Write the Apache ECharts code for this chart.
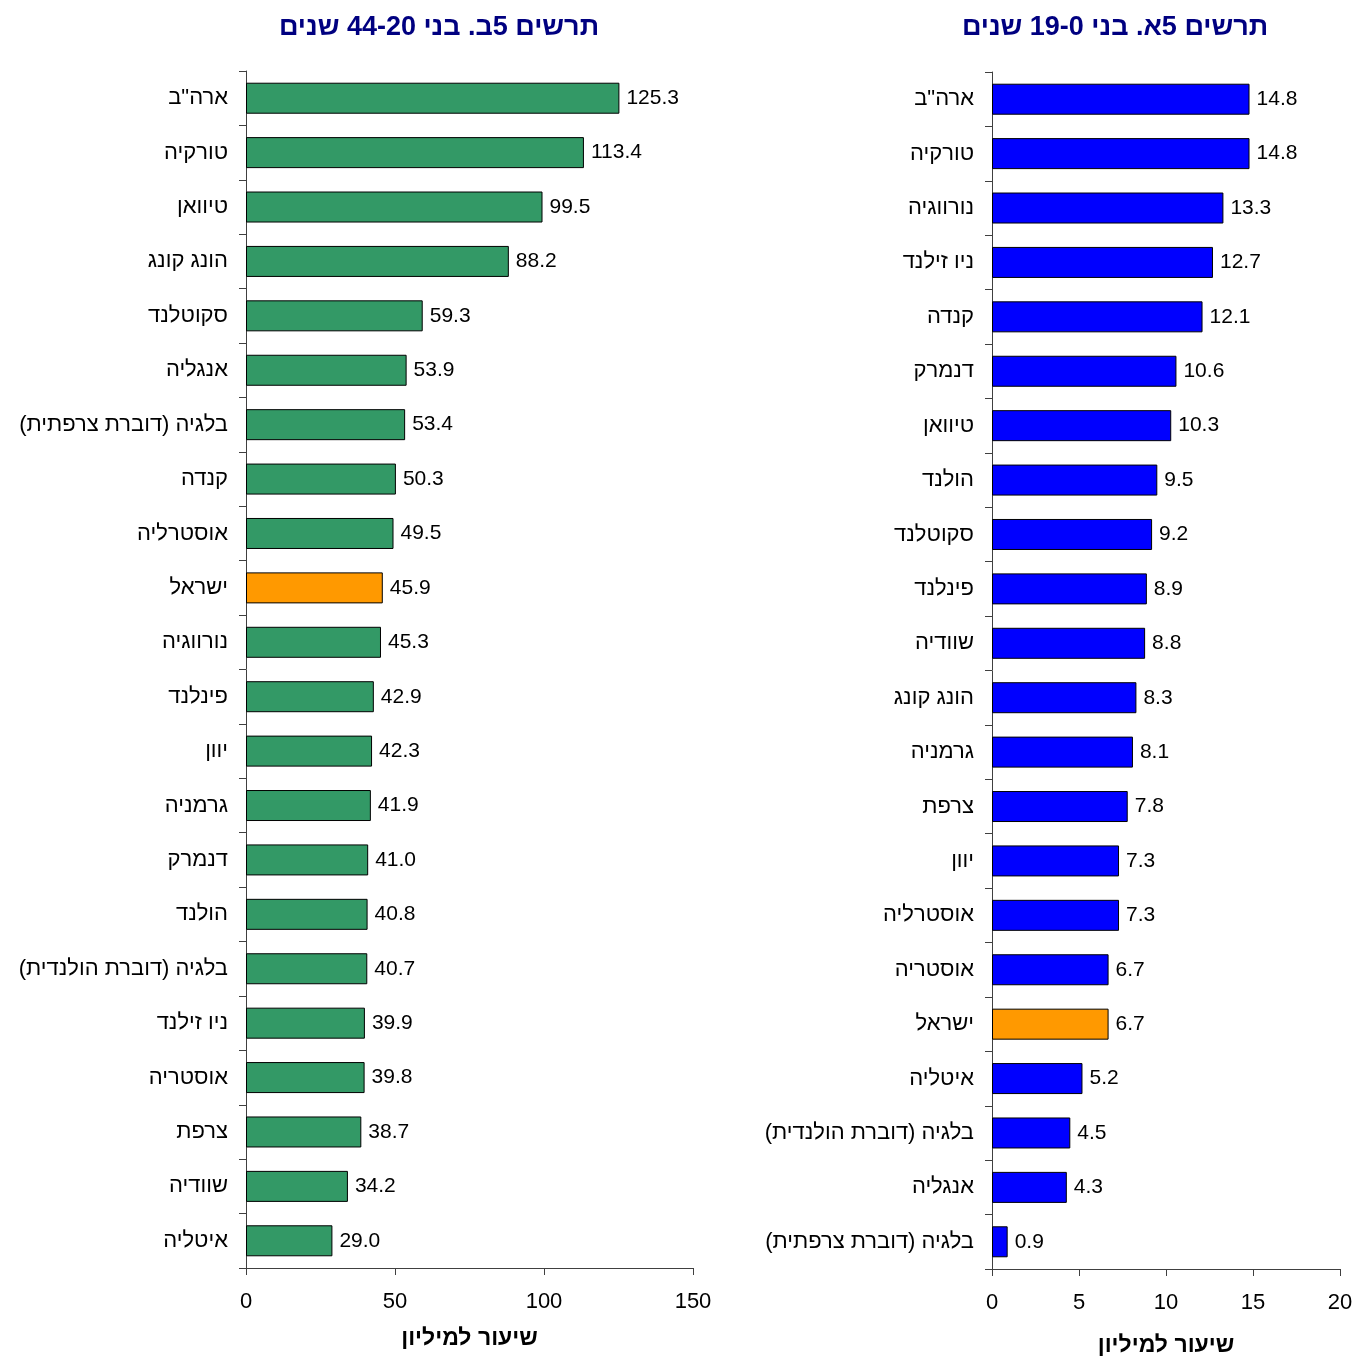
<!DOCTYPE html>
<html>
<head>
<meta charset="utf-8">
<script src="https://cdn.jsdelivr.net/npm/echarts@6/dist/echarts.min.js"></script>
<style>
  html, body { margin: 0; padding: 0; background: #fff; }
  #chart { width: 1361px; height: 1356px; }
</style>
</head>
<body>
<div id="chart" dir="rtl"></div>
<script>
// 5b: ages 20-44
const adultCountries = ['ארה"ב', 'טורקיה', 'טיוואן', 'הונג קונג', 'סקוטלנד', 'אנגליה', 'בלגיה (דוברת צרפתית)', 'קנדה', 'אוסטרליה', 'ישראל', 'נורווגיה', 'פינלנד', 'יוון', 'גרמניה', 'דנמרק', 'הולנד', 'בלגיה (דוברת הולנדית)', 'ניו זילנד', 'אוסטריה', 'צרפת', 'שוודיה', 'איטליה'];
const adultRates = [125.3, 113.4, 99.5, 88.2, 59.3, 53.9, 53.4, 50.3, 49.5, 45.9, 45.3, 42.9, 42.3, 41.9, 41.0, 40.8, 40.7, 39.9, 39.8, 38.7, 34.2, 29.0];

// 5a: ages 0-19
const childCountries = ['ארה"ב', 'טורקיה', 'נורווגיה', 'ניו זילנד', 'קנדה', 'דנמרק', 'טיוואן', 'הולנד', 'סקוטלנד', 'פינלנד', 'שוודיה', 'הונג קונג', 'גרמניה', 'צרפת', 'יוון', 'אוסטרליה', 'אוסטריה', 'ישראל', 'איטליה', 'בלגיה (דוברת הולנדית)', 'אנגליה', 'בלגיה (דוברת צרפתית)'];
const childRates = [14.8, 14.8, 13.3, 12.7, 12.1, 10.6, 10.3, 9.5, 9.2, 8.9, 8.8, 8.3, 8.1, 7.8, 7.3, 7.3, 6.7, 6.7, 5.2, 4.5, 4.3, 0.9];

const adultTicks = [0, 50, 100, 150];
const childTicks = [0, 5, 10, 15, 20];

const FONT = '"Liberation Sans", Arial, sans-serif';
const HIGHLIGHT = 'ישראל';

const chart = echarts.init(document.getElementById('chart'));

function barData(names, values, color) {
    return values.map((v, i) => ({
        value: v,
        itemStyle: { color: names[i] === HIGHLIGHT ? '#FF9900' : color }
    }));
}

function xAxis(gridIndex, ticks) {
    return {
        type: 'value',
        gridIndex: gridIndex,
        min: ticks[0],
        max: ticks[ticks.length - 1],
        interval: ticks[1] - ticks[0],
        splitLine: { show: false },
        axisLine: { show: true, lineStyle: { color: '#404040', width: 1 } },
        axisTick: { show: true, length: 7, lineStyle: { color: '#404040' } },
        axisLabel: { fontSize: 22, color: '#000', fontFamily: FONT, margin: 23 },
        name: 'שיעור למיליון',
        nameLocation: 'middle',
        nameGap: gridIndex === 0 ? 59 : 65,
        nameTextStyle: { fontSize: 23, fontWeight: 'bold', color: '#000', fontFamily: FONT }
    };
}

function yAxis(gridIndex, names) {
    return {
        type: 'category',
        gridIndex: gridIndex,
        data: names,
        inverse: true,
        axisLine: { show: true, lineStyle: { color: '#404040', width: 1 } },
        axisTick: { show: true, length: 7, lineStyle: { color: '#404040' } },
        axisLabel: { fontSize: 22, color: '#000', fontFamily: FONT, margin: 18 }
    };
}

function barSeries(idx, names, values, color) {
    return {
        type: 'bar',
        xAxisIndex: idx,
        yAxisIndex: idx,
        data: barData(names, values, color),
        barWidth: 31,
        itemStyle: { borderColor: '#000', borderWidth: 1 },
        label: {
            show: true,
            position: 'right',
            distance: 7,
            fontSize: 21,
            color: '#000',
            fontFamily: FONT,
            formatter: p => p.value.toFixed(1)
        },
        animation: false
    };
}

chart.setOption({
    animation: false,
    title: [
        {
            text: 'תרשים 5ב. בני 44-20 שנים',
            left: 434, top: 9, textAlign: 'center',
            textStyle: { fontSize: 27, fontWeight: 'bold', color: '#000080', fontFamily: FONT }
        },
        {
            text: 'תרשים 5א. בני 19-0 שנים',
            left: 1110, top: 9, textAlign: 'center',
            textStyle: { fontSize: 27, fontWeight: 'bold', color: '#000080', fontFamily: FONT }
        }
    ],
    grid: [
        { left: 246, width: 447, top: 71, bottom: 88, outerBoundsMode: 'none' },
        { left: 992, width: 348, top: 72, bottom: 87, outerBoundsMode: 'none' }
    ],
    xAxis: [xAxis(0, adultTicks), xAxis(1, childTicks)],
    yAxis: [yAxis(0, adultCountries), yAxis(1, childCountries)],
    series: [
        barSeries(0, adultCountries, adultRates, '#339966'),
        barSeries(1, childCountries, childRates, '#0000FF')
    ]
});
</script>
</body>
</html>
